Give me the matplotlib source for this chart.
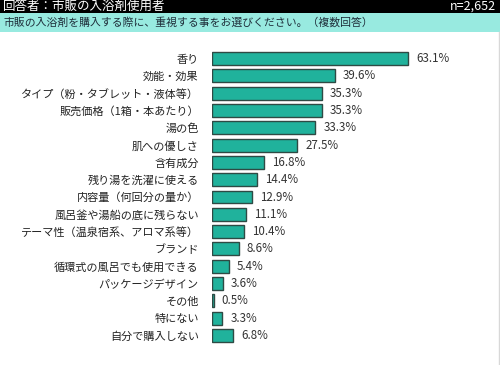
import matplotlib
matplotlib.use("Agg")
import matplotlib.pyplot as plt
from matplotlib.patches import Rectangle
from matplotlib.lines import Line2D

plt.rcParams['font.family'] = ['Noto Sans CJK JP', 'DejaVu Sans']

categories = ["香り", "効能・効果", "タイプ（粉・タブレット・液体等）", "販売価格（1箱・本あたり）",
              "湯の色", "肌への優しさ", "含有成分", "残り湯を洗濯に使える", "内容量（何回分の量か）",
              "風呂釜や湯船の底に残らない", "テーマ性（温泉宿系、アロマ系等）", "ブランド",
              "循環式の風呂でも使用できる", "パッケージデザイン", "その他", "特にない", "自分で購入しない"]
values = [63.1, 39.6, 35.3, 35.3, 33.3, 27.5, 16.8, 14.4, 12.9, 11.1, 10.4, 8.6, 5.4, 3.6, 0.5, 3.3, 6.8]

header = "回答者：市販の入浴剤使用者"
n_text = "n=2,652"
question = "市販の入浴剤を購入する際に、重視する事をお選びください。（複数回答）"

W, H = 500, 365
fig = plt.figure(figsize=(W / 100, H / 100), dpi=100)
fig.patch.set_facecolor("white")

# header bars
fig.patches.append(Rectangle((0, 1 - 13.5 / H), 1, 13.5 / H, transform=fig.transFigure,
                             facecolor="black", edgecolor="none", zorder=0))
fig.patches.append(Rectangle((0, 1 - 31.5 / H), 1, 18 / H, transform=fig.transFigure,
                             facecolor="#98EAE0", edgecolor="none", zorder=0))
fig.text(3 / W, 1 - 6.5 / H, header, color="white", fontsize=9, va="center", ha="left")
fig.text(496 / W, 1 - 6.5 / H, n_text, color="white", fontsize=9, va="center", ha="right")
fig.text(3 / W, 1 - 22.5 / H, question, color="#1E2E3A", fontsize=7.8, va="center", ha="left")
fig.lines.append(Line2D([498.5 / W, 498.5 / W], [0, 1 - 31.5 / H], transform=fig.transFigure,
                        color="#D8D8D8", linewidth=1))

left, right = 212, 492
top_px, bot_px = 49.8, 344.2
ax = fig.add_axes([left / W, 1 - bot_px / H, (right - left) / W, (bot_px - top_px) / H])
px_per_unit = 196 / 63.1
ax.set_xlim(0, (right - left) / px_per_unit)
ax.set_ylim(len(categories) - 0.5, -0.5)

ypos = list(range(len(categories)))
ax.barh(ypos, values, height=0.75, color="#20B29C", edgecolor="#2E4A44", linewidth=1.0)
for y, v in zip(ypos, values):
    ax.text(v + 8 / px_per_unit, y, f"{v:.1f}%", va="center", ha="left", fontsize=8.3, color="#333333")

ax.set_yticks(ypos)
ax.set_yticklabels(categories, fontsize=8, color="#222222")
ax.tick_params(axis="y", length=0, pad=9.5)
ax.set_xticks([])
for s in ax.spines.values():
    s.set_visible(False)

fig.savefig("out.png", dpi=100)
